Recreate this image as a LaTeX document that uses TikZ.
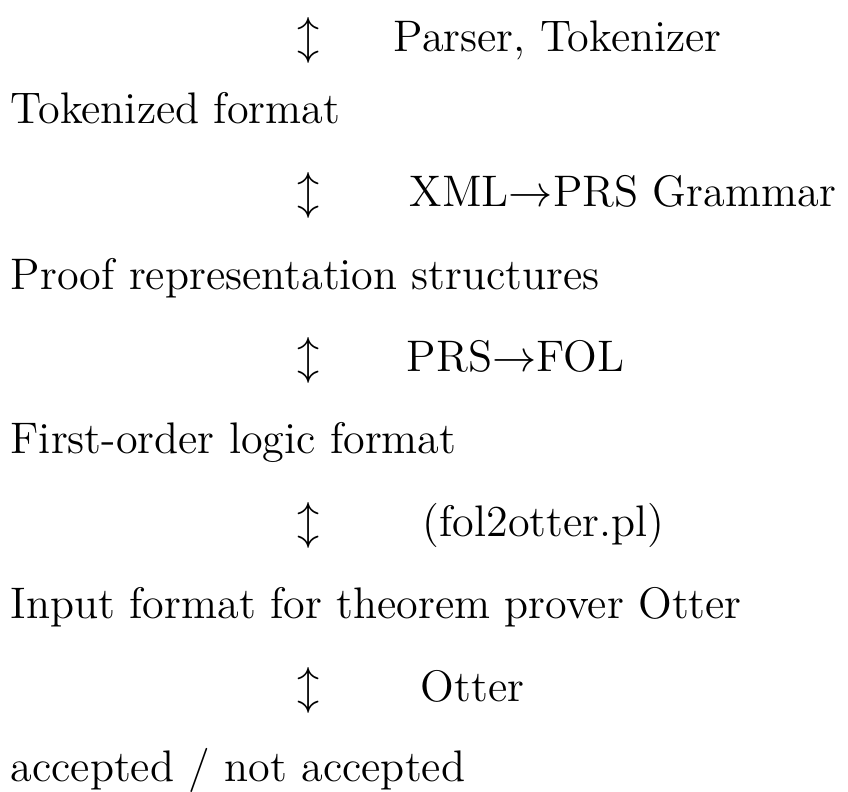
\documentclass[tikz,border=0pt]{standalone}
\usepackage{amsmath}
\usepackage{tikz}
\usetikzlibrary{positioning}

\tikzset{
  fmt/.style={anchor=base west, inner sep=0pt},
  tool/.style={anchor=base west, inner sep=0pt},
  updown/.style={anchor=base, inner sep=0pt}
}

\begin{document}
\fontsize{12}{14}\selectfont
\begin{tikzpicture}[x=0.2715pt,y=-0.2715pt]
  \useasboundingbox (0,0) rectangle (848,792);

  \node[updown] (a1) at (309,52) {$\updownarrow$};
  \node[tool] (t1) at (393,52) {Parser, Tokenizer};

  \node[fmt] (f1) at (10,124) {Tokenized format};

  \node[updown] (a2) at (309,207) {$\updownarrow$};
  \node[tool] (t2) at (409,207) {XML$\to$PRS Grammar};

  \node[fmt] (f2) at (10,290) {Proof representation structures};

  \node[updown] (a3) at (309,372) {$\updownarrow$};
  \node[tool] (t3) at (406,372) {PRS$\to$FOL};

  \node[fmt] (f3) at (10,454) {First-order logic format};

  \node[updown] (a4) at (309,537) {$\updownarrow$};
  \node[tool] (t4) at (422,537) {(fol2otter.pl)};

  \node[fmt] (f4) at (10,619) {Input format for theorem prover Otter};

  \node[updown] (a5) at (309,701) {$\updownarrow$};
  \node[tool] (t5) at (420,701) {Otter};

  \node[fmt] (f5) at (10,781) {accepted / not accepted};
\end{tikzpicture}
\end{document}
